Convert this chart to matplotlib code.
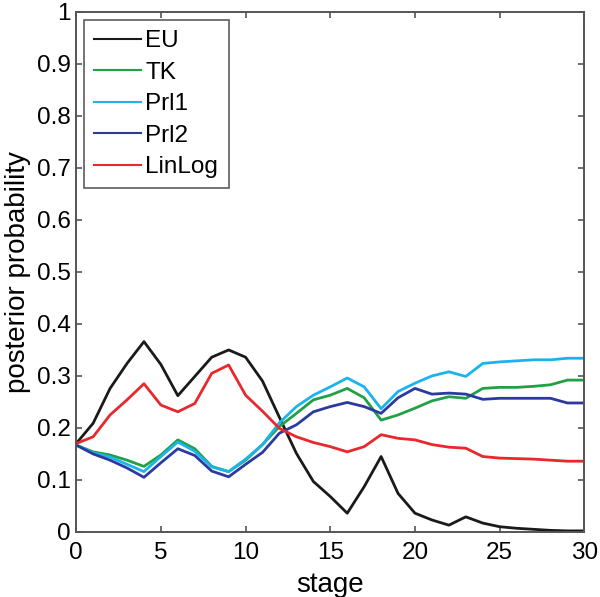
import numpy as np
import matplotlib
matplotlib.use("Agg")
import matplotlib.pyplot as plt

plt.rcParams['font.family'] = ['Liberation Sans', 'DejaVu Sans']

# ---------------------------------------------
# Data
# ---------------------------------------------
stage = list(range(31))

eu = [0.17, 0.209, 0.276, 0.324, 0.366, 0.322, 0.262, 0.299, 0.336, 0.350,
      0.336, 0.290, 0.220, 0.151, 0.097, 0.068, 0.036, 0.087, 0.145, 0.074,
      0.036, 0.023, 0.013, 0.029, 0.017, 0.010, 0.007, 0.005, 0.003, 0.002,
      0.002]
tk = [0.167, 0.154, 0.148, 0.138, 0.126, 0.148, 0.177, 0.160, 0.126, 0.116,
      0.138, 0.168, 0.203, 0.228, 0.254, 0.263, 0.276, 0.258, 0.215, 0.225,
      0.238, 0.252, 0.260, 0.257, 0.276, 0.278, 0.278, 0.280, 0.283, 0.292,
      0.292]
prl1 = [0.167, 0.152, 0.144, 0.130, 0.116, 0.145, 0.173, 0.155, 0.125, 0.116,
        0.140, 0.168, 0.210, 0.241, 0.263, 0.279, 0.296, 0.279, 0.237, 0.270,
        0.286, 0.300, 0.308, 0.299, 0.324, 0.327, 0.329, 0.331, 0.331, 0.334,
        0.334]
prl2 = [0.167, 0.150, 0.138, 0.123, 0.105, 0.133, 0.160, 0.147, 0.117, 0.106,
        0.130, 0.153, 0.190, 0.206, 0.231, 0.241, 0.249, 0.241, 0.228, 0.258,
        0.276, 0.265, 0.267, 0.265, 0.255, 0.257, 0.257, 0.257, 0.257, 0.248,
        0.248]
linlog = [0.17, 0.183, 0.225, 0.254, 0.285, 0.244, 0.231, 0.247, 0.305, 0.321,
          0.263, 0.232, 0.199, 0.183, 0.172, 0.164, 0.154, 0.164, 0.187, 0.180,
          0.177, 0.168, 0.163, 0.161, 0.145, 0.142, 0.141, 0.140, 0.138, 0.136,
          0.136]

series = [("EU", eu, "#1a1a1a"),
          ("TK", tk, "#22a045"),
          ("Prl1", prl1, "#1ab4ec"),
          ("Prl2", prl2, "#2b3a9e"),
          ("LinLog", linlog, "#e8282c")]

# ---------------------------------------------
# Plot
# ---------------------------------------------
fig = plt.figure(figsize=(6.0, 5.97), dpi=100)
ax = fig.add_axes([0.127, 0.109, 0.847, 0.871])

for name, vals, col in series:
    ax.plot(stage, vals, color=col, lw=2.0, label=name)

ax.set_xlim(0, 30)
ax.set_ylim(0, 1)
ax.set_xticks([0, 5, 10, 15, 20, 25, 30])
ax.set_yticks(np.arange(0, 1.01, 0.1))
ax.set_yticklabels(["0", "0.1", "0.2", "0.3", "0.4", "0.5", "0.6",
                    "0.7", "0.8", "0.9", "1"])
ax.tick_params(direction="in", top=True, right=True, length=4,
               labelsize=17.5, color="#555555", width=1.2, pad=4)
ax.tick_params(axis="x", pad=7)
for sp in ax.spines.values():
    sp.set_color("#555555")
    sp.set_linewidth(1.4)

ax.set_xlabel("stage", fontsize=20, labelpad=6)
ax.set_ylabel("posterior probability", fontsize=20, labelpad=4)

leg = ax.legend(loc="upper left", fontsize=17.5, frameon=True, fancybox=False,
                handlelength=1.9, handletextpad=0.2, labelspacing=0.39,
                borderpad=0.42, borderaxespad=0.33)
leg.get_frame().set_edgecolor("#333333")
leg.get_frame().set_linewidth(1.2)
for ln in leg.get_lines():
    ln.set_linewidth(1.5)

fig.savefig("out.png", dpi=100)
